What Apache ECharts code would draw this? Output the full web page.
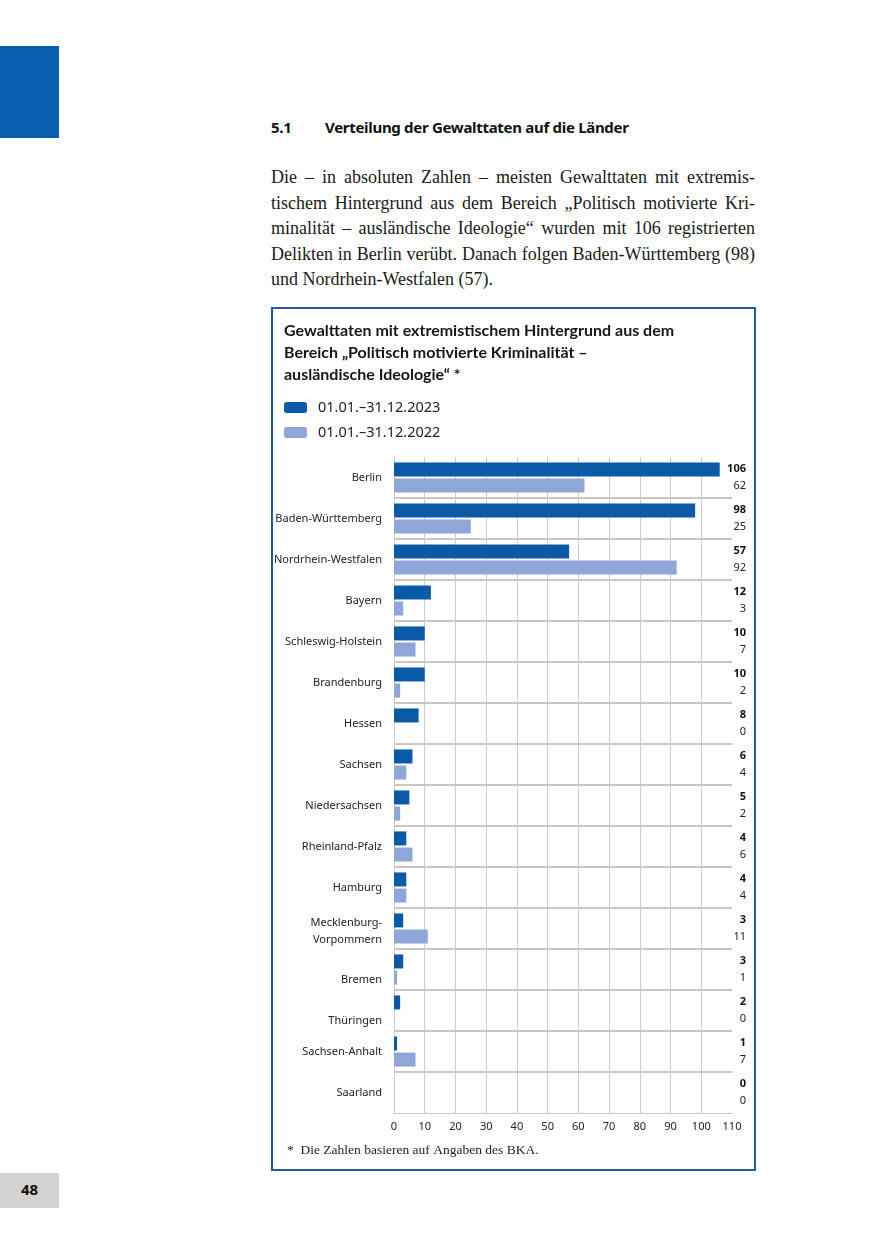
<!DOCTYPE html>
<html>
<head>
<meta charset="utf-8">
<script src="https://cdn.jsdelivr.net/npm/echarts@6/dist/echarts.min.js"></script>
<style>
  body { margin: 0; background: #fff; }
  #page { position: relative; width: 875px; height: 1241px; overflow: hidden; }
  .block { position: absolute; left: 0; top: 46px; width: 59px; height: 92px; background: #0660ad; }
  .pagenr { position: absolute; left: 0; top: 1173px; width: 59px; height: 35px; background: #d2d2d2;
    font: bold 15px "Noto Sans", sans-serif; color: #111; text-align: center; line-height: 33px; }
  .h { position: absolute; left: 271px; top: 117px; font: bold 15px "Noto Sans", sans-serif; color: #111; letter-spacing: -0.3px; }
  .h span { display: inline-block; width: 54px; }
  .para { position: absolute; left: 271px; top: 165px; width: 484px; font: 18px "Liberation Serif", serif; color: #1a1a1a; }
  .para div { height: 25.5px; line-height: 25.5px; text-align: justify; text-align-last: justify; white-space: nowrap; }
  .para div.last { text-align-last: left; }
  .box { position: absolute; left: 271px; top: 307px; width: 485px; height: 864px; box-sizing: border-box; border: 2px solid #1e5e9c; }
  #chart { position: absolute; left: 0; top: 0; width: 875px; height: 1241px; }
</style>
</head>
<body>
<div id="page">
  <div class="block"></div>
  <div class="pagenr">48</div>
  <div class="h"><span>5.1</span>Verteilung der Gewalttaten auf die Länder</div>
  <div class="para">
    <div>Die – in absoluten Zahlen – meisten Gewalttaten mit extremis-</div>
    <div>tischem Hintergrund aus dem Bereich „Politisch motivierte Kri-</div>
    <div>minalität – ausländische Ideologie“ wurden mit 106 registrierten</div>
    <div>Delikten in Berlin verübt. Danach folgen Baden-Württemberg (98)</div>
    <div class="last">und Nordrhein-Westfalen (57).</div>
  </div>
  <div class="box"></div>
  <div id="chart"></div>
</div>
<script>
const laender = ["Berlin", "Baden-Württemberg", "Nordrhein-Westfalen", "Bayern", "Schleswig-Holstein",
  "Brandenburg", "Hessen", "Sachsen", "Niedersachsen", "Rheinland-Pfalz", "Hamburg",
  "Mecklenburg-\nVorpommern", "Bremen", "Thüringen", "Sachsen-Anhalt", "Saarland"];
const werte2023 = [106, 98, 57, 12, 10, 10, 8, 6, 5, 4, 4, 3, 3, 2, 1, 0];
const werte2022 = [62, 25, 92, 3, 7, 2, 0, 4, 2, 6, 4, 11, 1, 0, 7, 0];
const xTicks = [0, 10, 20, 30, 40, 50, 60, 70, 80, 90, 100, 110];

const dunkel = "#0a5aa8";
const hell = "#8fa7d8";
const sans = "Noto Sans";

// in the print layout these labels sit below the band centre
const runter = ["Bremen", "Thüringen"];

const chart = echarts.init(document.getElementById("chart"));

const labelStyle = { fontFamily: sans, fontSize: 11, color: "#222", lineHeight: 16 };

const option = {
  animation: false,
  title: {
    text: "Gewalttaten mit extremistischem Hintergrund aus dem\nBereich „Politisch motivierte Kriminalität –\nausländische Ideologie“ *",
    left: 284,
    top: 320,
    padding: 0,
    textStyle: { fontFamily: "Lato", fontSize: 16, fontWeight: "bold", lineHeight: 22, color: "#161616" },
  },
  legend: {
    orient: "vertical",
    left: 284,
    top: 400,
    padding: 0,
    itemWidth: 23,
    itemHeight: 11,
    itemGap: 10,
    icon: "roundRect",
    selectedMode: false,
    data: ["01.01.–31.12.2023", "01.01.–31.12.2022"],
    textStyle: { fontFamily: sans, fontSize: 14.5, color: "#222", padding: [0, 0, 0, 6] },
  },
  grid: { left: 394, right: 143, top: 457, bottom: 128 },
  xAxis: {
    type: "value",
    min: 0,
    max: 110,
    interval: 10,
    axisLine: { show: true, lineStyle: { color: "#c6c6c6", width: 1 } },
    axisTick: { show: false },
    axisLabel: { fontFamily: sans, fontSize: 11, color: "#222", margin: 8,
      formatter: (v) => (xTicks.includes(v) ? String(v) : "") },
    splitLine: { show: true, showMaxLine: false, lineStyle: { color: "#cccccc", width: 1 } },
  },
  yAxis: [
    {
      type: "category",
      data: laender,
      inverse: true,
      axisLine: { show: false },
      axisTick: { show: false },
      axisLabel: {
        ...labelStyle,
        margin: 12,
        formatter: (v) => {
          if (runter.includes(v)) return "{down|" + v + "}";
          if (v.includes("\n")) return v.split("\n").map((s) => "{mv|" + s + "}").join("\n");
          return v;
        },
        rich: {
          down: { ...labelStyle, padding: [20, 0, 0, 0] },
          mv: { ...labelStyle, lineHeight: 17, padding: [5, 0, 0, 0] },
        },
      },
      splitLine: { show: true, showMinLine: false, showMaxLine: false, lineStyle: { color: "#c8c8c8", width: 2 } },
    },
    {
      type: "category",
      data: laender,
      inverse: true,
      position: "right",
      axisLine: { show: false },
      axisTick: { show: false },
      axisLabel: {
        align: "right",
        margin: 14,
        formatter: (v, i) => "{a|" + werte2023[i] + "}\n{b|" + werte2022[i] + "}",
        rich: {
          a: { fontFamily: sans, fontSize: 11, fontWeight: "bold", color: "#111", lineHeight: 17, align: "right" },
          b: { fontFamily: sans, fontSize: 11, color: "#222", lineHeight: 17, align: "right" },
        },
      },
      splitLine: { show: false },
    },
  ],
  series: [
    {
      name: "01.01.–31.12.2023",
      type: "bar",
      data: werte2023,
      barWidth: 14,
      barGap: "15%",
      itemStyle: { color: dunkel },
    },
    {
      name: "01.01.–31.12.2022",
      type: "bar",
      data: werte2022,
      barWidth: 14,
      barGap: "15%",
      itemStyle: { color: hell },
    },
  ],
  graphic: [
    {
      type: "text",
      left: 287,
      top: 1143,
      style: { text: "*  Die Zahlen basieren auf Angaben des BKA.", font: '13.5px "Liberation Serif"', fill: "#222" },
    },
  ],
};

chart.setOption(option);
</script>
</body>
</html>
